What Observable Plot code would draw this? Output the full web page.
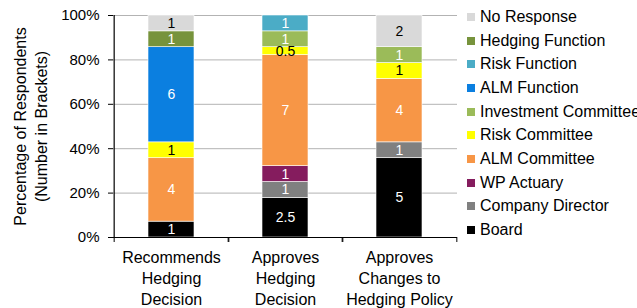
<!DOCTYPE html>
<html><head><meta charset="utf-8">
<script src="https://cdn.jsdelivr.net/npm/d3@7"></script>
<script src="https://cdn.jsdelivr.net/npm/@observablehq/plot@0.6"></script>
<style>
body{margin:0;background:#fff;font-family:"Liberation Sans",Arial,sans-serif;}
#wrap{position:relative;width:637px;height:308px;overflow:hidden;background:#fff;}
#legend{position:absolute;left:467px;top:5px;font-size:16px;color:#000;}
.item{height:23.7px;display:flex;align-items:center;white-space:nowrap;}
.sw{width:8px;height:8px;margin-right:5px;flex:none;}
</style></head><body><div id="wrap"><div id="chart"></div><div id="legend"></div></div>
<script>
const categories = ["Recommends Hedging Decision", "Approves Hedging Decision", "Approves Changes to Hedging Policy"];
const tickLabels = ["Recommends\nHedging\nDecision", "Approves\nHedging\nDecision", "Approves\nChanges to\nHedging Policy"];
const series = ["Board", "Company Director", "WP Actuary", "ALM Committee", "Risk Committee", "Investment Committee", "ALM Function", "Risk Function", "Hedging Function", "No Response"];
const seriesColors = ["#000000", "#808080", "#851c5e", "#f79646", "#ffff00", "#9bbb59", "#0b7fe0", "#4bacc6", "#77933c", "#d9d9d9"];
const labelColors = ["white", "white", "white", "white", "black", "white", "white", "white", "white", "black"];
const board = [1, 2.5, 5];
const companyDirector = [0, 1, 1];
const wpActuary = [0, 1, 0];
const almCommittee = [4, 7, 4];
const riskCommittee = [1, 0.5, 1];
const investmentCommittee = [0, 1, 1];
const almFunction = [6, 0, 0];
const riskFunction = [0, 1, 0];
const hedgingFunction = [1, 0, 0];
const noResponse = [1, 0, 2];
const yTicks = [0, 0.2, 0.4, 0.6, 0.8, 1];
const yTitle = "Percentage of Respondents\n(Number in Brackets)";

const seriesValues = [board, companyDirector, wpActuary, almCommittee, riskCommittee, investmentCommittee, almFunction, riskFunction, hedgingFunction, noResponse];
const rows = [];
series.forEach((s, si) => categories.forEach((c, ci) => {
  const v = seriesValues[si][ci];
  if (v > 0) rows.push({cat: c, series: s, value: v, color: seriesColors[si], label: labelColors[si]});
}));

const W = 637, H = 308, mL = 113, mR = 180, mT = 15, mB = 71;
const step = (W - mL - mR) / categories.length;
const stackOpts = {x: "cat", y: "value", z: "series", order: series, offset: "normalize"};

const chart = Plot.plot({
  width: W, height: H, marginLeft: mL, marginRight: mR, marginTop: mT, marginBottom: mB,
  style: {fontFamily: "'Liberation Sans', Arial, sans-serif", fontSize: "15px", color: "black", background: "white", overflow: "visible"},
  x: {domain: categories, paddingInner: 0.6, paddingOuter: 0.3, axis: null},
  y: {domain: [0, 1], axis: null},
  marks: [
    Plot.gridY(yTicks, {stroke: "#b3b3b3", strokeOpacity: 1}),
    Plot.barY(rows, Plot.stackY({...stackOpts, fill: d => d.color, stroke: "white", strokeWidth: 0.6})),
    Plot.text(rows, Plot.stackY({...stackOpts, text: d => String(d.value), fill: d => d.label, fontSize: 14})),
    Plot.ruleY([0], {stroke: "black", strokeWidth: 1.2}),
    Plot.ruleX([categories[0]], {y1: 0, y2: 1, dx: -step / 2, stroke: "black", strokeWidth: 1.2}),
    Plot.axisY(yTicks, {tickFormat: d => Math.round(d * 100) + "%", tickSize: 5, tickPadding: 9, fontSize: 15, label: null}),
    Plot.text([yTitle], {frameAnchor: "left", rotate: -90, dx: -102, textAnchor: "middle", lineAnchor: "top", fontSize: 16, lineHeight: 1.3, fill: "black"}),
    Plot.axisX({tickFormat: (d) => tickLabels[categories.indexOf(d)], tickSize: 0, tickPadding: 11, fontSize: 16, lineHeight: 1.3, label: null}),
    Plot.axisX({text: null, tickSize: 5, dx: -step / 2, label: null}),
    Plot.axisX({text: null, tickSize: 5, dx: step / 2, label: null})
  ]
});
document.getElementById("chart").appendChild(chart);

const legend = document.getElementById("legend");
for (let i = series.length - 1; i >= 0; i--) {
  const it = document.createElement("div");
  it.className = "item";
  const sw = document.createElement("span");
  sw.className = "sw";
  sw.style.background = seriesColors[i];
  const t = document.createElement("span");
  t.textContent = series[i];
  it.appendChild(sw); it.appendChild(t);
  legend.appendChild(it);
}
</script></body></html>
